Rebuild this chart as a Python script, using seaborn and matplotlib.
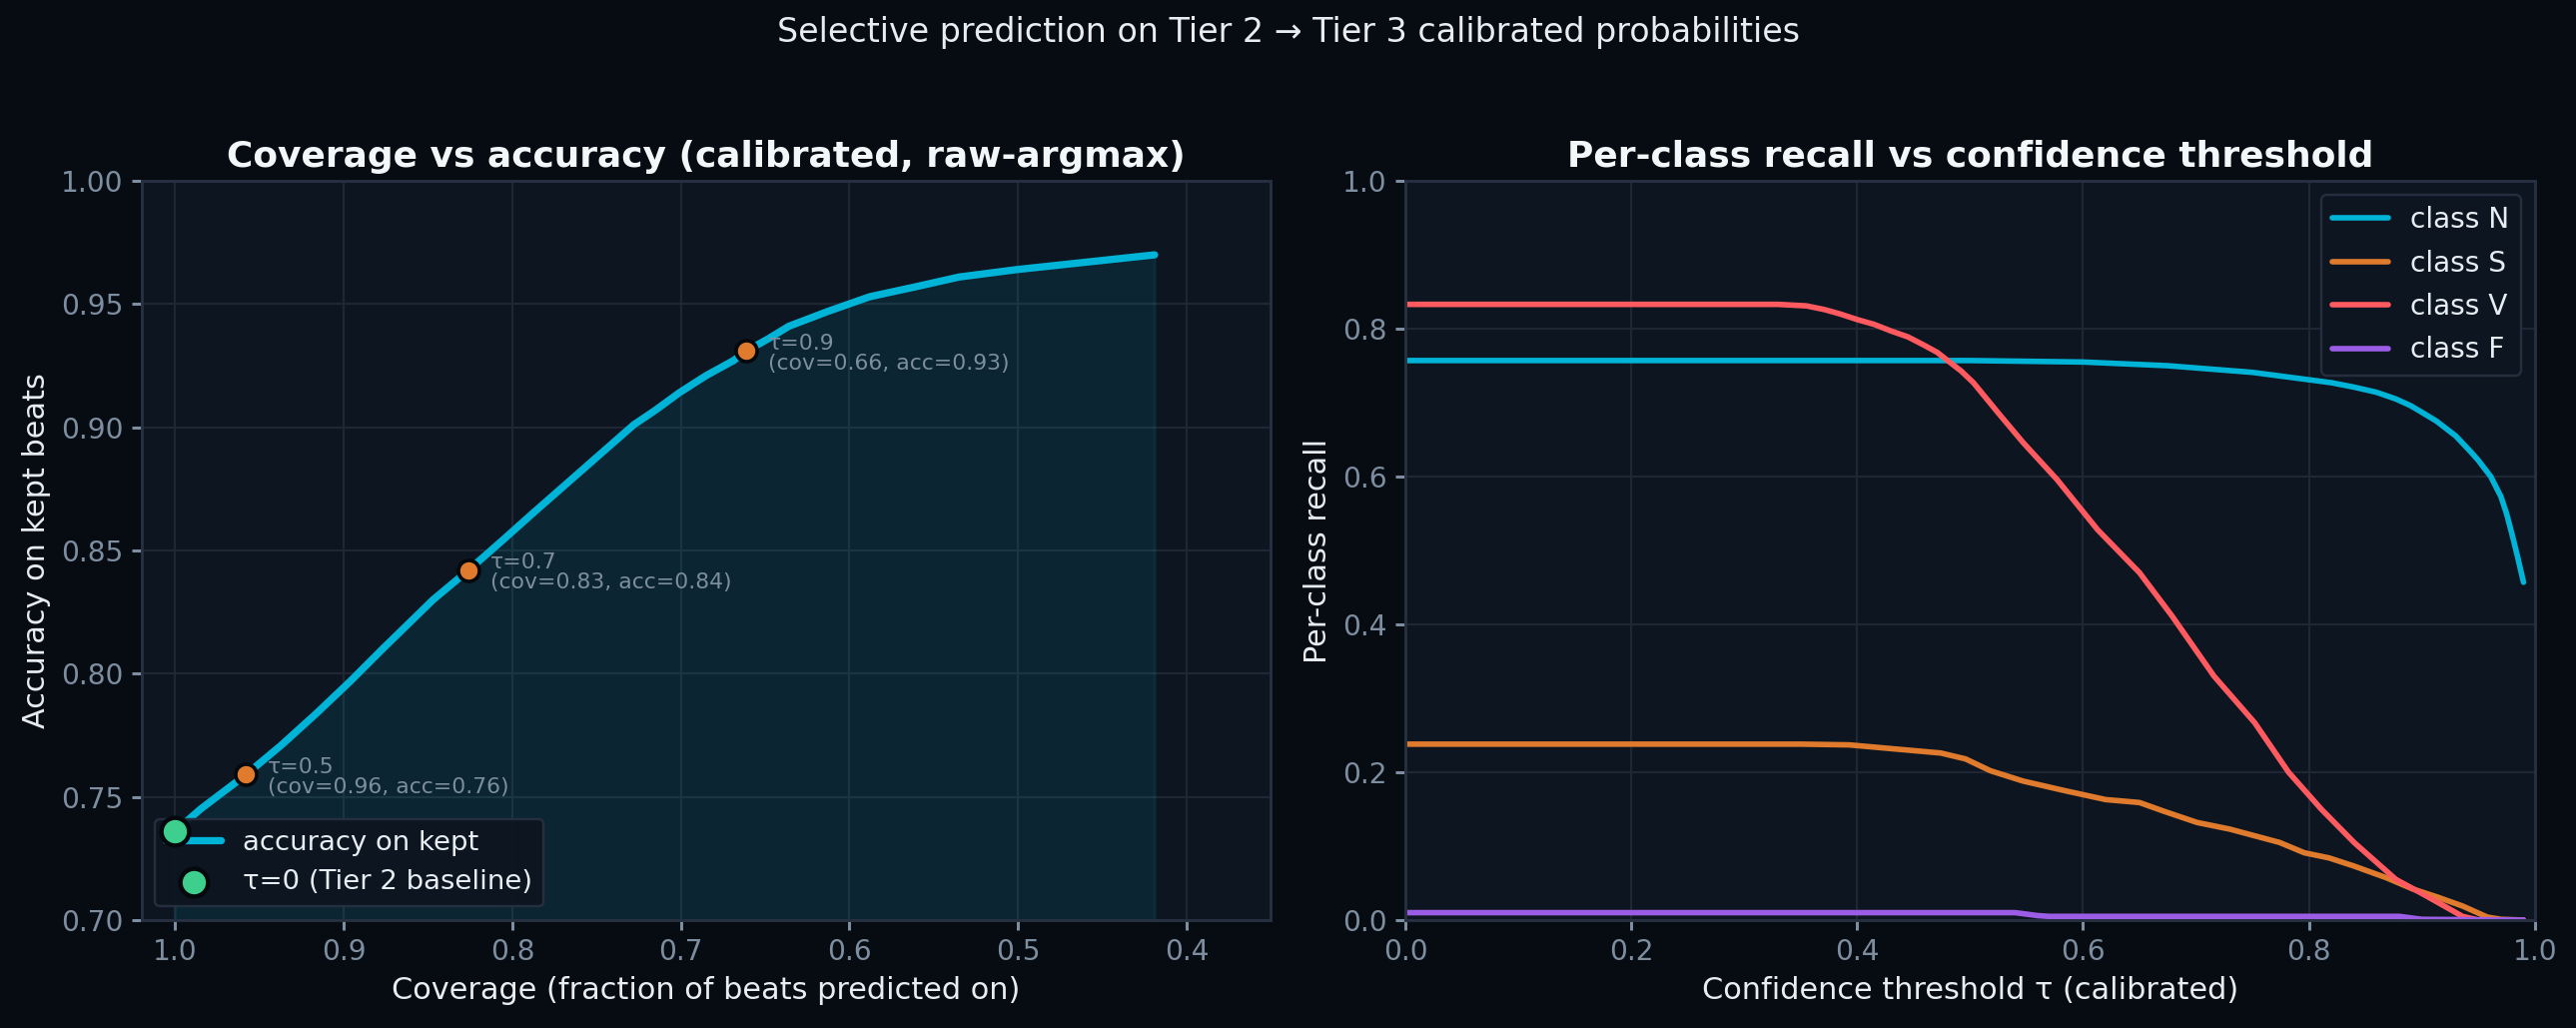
import matplotlib
matplotlib.use("Agg")
import matplotlib.pyplot as plt
import pandas as pd
import numpy as np
import seaborn as sns

# Coverage vs accuracy curve (left panel)
coverage = [1.000, 0.985, 0.958, 0.937, 0.916, 0.896, 0.877, 0.862, 0.847, 0.826,
            0.806, 0.788, 0.768, 0.748, 0.728, 0.715, 0.701, 0.685, 0.669, 0.661,
            0.648, 0.636, 0.613, 0.588, 0.561, 0.535, 0.501, 0.460, 0.419]
accuracy = [0.736, 0.745, 0.759, 0.771, 0.784, 0.797, 0.810, 0.820, 0.830, 0.842,
            0.854, 0.865, 0.877, 0.889, 0.901, 0.907, 0.914, 0.921, 0.927, 0.931,
            0.936, 0.941, 0.947, 0.953, 0.957, 0.961, 0.964, 0.967, 0.970]

# thresholds marked on the curve
marked_tau = [0.5, 0.7, 0.9]
marked_cov = [0.958, 0.826, 0.661]
marked_acc = [0.759, 0.842, 0.931]

# Per-class recall vs threshold (right panel)
tau_N = [0.0, 0.5, 0.6, 0.675, 0.7, 0.75, 0.8, 0.82, 0.84, 0.86, 0.877, 0.89, 0.9,
         0.913, 0.93, 0.943, 0.95, 0.961, 0.97, 0.975, 0.98, 0.985, 0.99]
rec_N = [0.757, 0.757, 0.755, 0.750, 0.747, 0.741, 0.731, 0.727, 0.721, 0.714, 0.705,
         0.696, 0.687, 0.675, 0.655, 0.634, 0.622, 0.600, 0.573, 0.550, 0.521, 0.490,
         0.457]

tau_S = [0.0, 0.35, 0.393, 0.437, 0.474, 0.496, 0.518, 0.547, 0.584, 0.62, 0.65, 0.672,
         0.701, 0.73, 0.752, 0.774, 0.796, 0.818, 0.84, 0.869, 0.892, 0.914, 0.936,
         0.958, 0.97, 0.99]
rec_S = [0.238, 0.238, 0.237, 0.231, 0.226, 0.218, 0.202, 0.188, 0.175, 0.163, 0.159,
         0.147, 0.132, 0.123, 0.114, 0.105, 0.091, 0.084, 0.073, 0.057, 0.042, 0.031,
         0.019, 0.004, 0.001, 0.0]

tau_V = [0.0, 0.33, 0.355, 0.371, 0.385, 0.401, 0.415, 0.43, 0.445, 0.459, 0.471, 0.481,
         0.492, 0.503, 0.525, 0.547, 0.577, 0.613, 0.65, 0.679, 0.716, 0.752, 0.782,
         0.811, 0.84, 0.877, 0.9, 0.914, 0.936, 0.95, 0.99]
rec_V = [0.833, 0.833, 0.831, 0.826, 0.820, 0.812, 0.806, 0.797, 0.789, 0.778, 0.768,
         0.756, 0.743, 0.727, 0.686, 0.646, 0.596, 0.528, 0.470, 0.411, 0.330, 0.267,
         0.200, 0.150, 0.105, 0.055, 0.036, 0.024, 0.005, 0.0, 0.0]

tau_F = [0.0, 0.54, 0.56, 0.57, 0.88, 0.9, 0.99]
rec_F = [0.010, 0.010, 0.006, 0.005, 0.005, 0.001, 0.0]

classes = ["class N", "class S", "class V", "class F"]

BG = "#070b12"
AX_BG = "#0d1520"
GRID = "#1e2733"
SPINE = "#263041"
TICK = "#7d8ea0"
LABEL = "#e6edf3"
CYAN = "#00b4d8"
ORANGE = "#e07b2e"
RED = "#ff5a5f"
PURPLE = "#9b5de5"
GREEN = "#3ecf8e"

sns.set_theme(style="dark")
plt.rcParams.update({
    "figure.facecolor": BG,
    "axes.facecolor": AX_BG,
    "axes.edgecolor": SPINE,
    "axes.grid": True,
    "grid.color": GRID,
    "grid.linewidth": 0.9,
    "xtick.color": TICK,
    "ytick.color": TICK,
    "xtick.labelcolor": TICK,
    "ytick.labelcolor": TICK,
    "xtick.bottom": True,
    "ytick.left": True,
    "axes.labelcolor": LABEL,
    "text.color": LABEL,
})
plt.rcParams["font.family"] = ["DejaVu Sans"]

fig, (ax1, ax2) = plt.subplots(1, 2, figsize=(2579 / 175, 1029 / 175), dpi=175)
fig.subplots_adjust(left=0.0549, right=0.984, bottom=0.105, top=0.824, wspace=0.119)

# ---- left: coverage vs accuracy
cov_df = pd.DataFrame({"coverage": coverage, "accuracy": accuracy})
ax1.fill_between(coverage, accuracy, 0.70, color=CYAN, alpha=0.10, zorder=1)
sns.lineplot(data=cov_df, x="coverage", y="accuracy", ax=ax1, color=CYAN, linewidth=3,
             label="accuracy on kept", sort=False, zorder=3)
sns.scatterplot(x=[coverage[0]], y=[accuracy[0]], ax=ax1, color=GREEN, s=130,
                edgecolor="#05080c", linewidth=1.8, label="τ=0 (Tier 2 baseline)", zorder=10)
sns.scatterplot(x=marked_cov, y=marked_acc, ax=ax1, color=ORANGE, s=75,
                edgecolor="#05080c", linewidth=1.5, zorder=6, legend=False)
for t, c, a in zip(marked_tau, marked_cov, marked_acc):
    ax1.annotate(f"τ={t}\n(cov={c:.2f}, acc={a:.2f})", (c, a), xytext=(9, -1),
                 textcoords="offset points", fontsize=9, color=TICK, va="center",
                 linespacing=1.0)

ax1.set_xlim(1.02, 0.35)
ax1.set_ylim(0.70, 1.00)
ax1.set_xlabel("Coverage (fraction of beats predicted on)", fontsize=12.5)
ax1.set_ylabel("Accuracy on kept beats", fontsize=12.5)
ax1.set_title("Coverage vs accuracy (calibrated, raw-argmax)", fontsize=14.8,
              fontweight="bold", color="#f4f7fa")
ax1.set_yticks([0.70, 0.75, 0.80, 0.85, 0.90, 0.95, 1.00])
ax1.set_yticklabels([f"{v:.2f}" for v in ax1.get_yticks()])
ax1.legend(loc="lower left", fontsize=11.3, facecolor=AX_BG, edgecolor=SPINE,
           labelcolor=LABEL, framealpha=0.95, handlelength=2.0)

# ---- right: per-class recall
parts = []
for name, t, r in zip(classes, [tau_N, tau_S, tau_V, tau_F], [rec_N, rec_S, rec_V, rec_F]):
    parts.append(pd.DataFrame({"tau": t, "recall": r, "cls": name}))
rec_df = pd.concat(parts, ignore_index=True)
sns.lineplot(data=rec_df, x="tau", y="recall", hue="cls", hue_order=classes,
             palette=dict(zip(classes, [CYAN, ORANGE, RED, PURPLE])), linewidth=2.3,
             ax=ax2, errorbar=None)
ax2.set_xlim(0, 1)
ax2.set_ylim(0, 1)
ax2.set_xlabel("Confidence threshold τ (calibrated)", fontsize=12.5)
ax2.set_ylabel("Per-class recall", fontsize=12.5)
ax2.set_title("Per-class recall vs confidence threshold", fontsize=14.8,
              fontweight="bold", color="#f4f7fa")
ax2.legend(loc="upper right", fontsize=11.5, facecolor=AX_BG, edgecolor=SPINE,
           labelcolor=LABEL, framealpha=0.95, title=None, labelspacing=0.55)

for ax in (ax1, ax2):
    ax.tick_params(labelsize=11.5, length=4, color=TICK)
    for sp in ax.spines.values():
        sp.set_color(SPINE)
        sp.set_linewidth(1.2)

fig.suptitle("Selective prediction on Tier 2 → Tier 3 calibrated probabilities",
             fontsize=13.7, color=LABEL, y=0.968, va="center")

fig.savefig("out.png", dpi=175, facecolor=BG)
